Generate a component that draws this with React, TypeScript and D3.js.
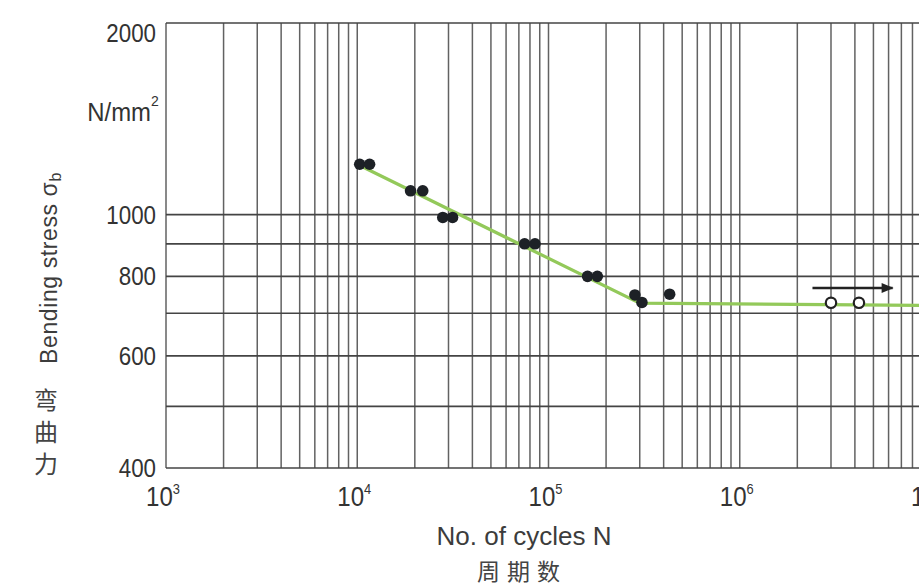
import React from 'react';
import * as d3 from 'd3';

// S-N curve: bending stress vs. number of cycles
const failureN = [1.03e4, 1.16e4, 1.9e4, 2.2e4, 2.8e4, 3.15e4, 7.5e4, 8.5e4, 1.6e5, 1.8e5, 2.83e5, 3.08e5, 4.3e5];
const failureStress = [1200, 1200, 1090, 1090, 990, 990, 900, 900, 800, 800, 748, 728, 750];
const runoutN = [3.0e6, 4.2e6];
const runoutStress = [727, 727];
const curveN = [1e4, 3e5, 1e7];
const curveStress = [1200, 726, 720];
const arrowN = [2.4e6, 6.3e6];
const arrowStress = [767, 767];
const stressGrid = [400, 500, 600, 700, 800, 900, 1000, 2000];
const stressLabels = [400, 600, 800, 1000, 2000];
const cycleLabels = [1e3, 1e4, 1e5, 1e6, 1e7];

const W = 919;
const H = 586;
const FONT = '"Liberation Sans", Arial, sans-serif';
const CJK = '"Noto Sans CJK SC", sans-serif';

export default function App() {
  const x = d3.scaleLog().domain([1e3, 1e7]).range([166, 931]);
  const y = d3.scaleLog().domain([400, 2000]).range([468, 23]);

  const curve = d3.line<number>()
    .x((d, i) => x(curveN[i]))
    .y((d, i) => y(curveStress[i]));

  // log scale ticks give every 1..9 multiple of each decade
  const verticals = x.ticks();

  return (
    <svg width={W} height={H} style={{ position: 'absolute', left: 0, top: 0, background: '#fff' }}>
      <defs>
        <marker id="arr" viewBox="0 0 12 10" refX="11" refY="5" markerWidth="5" markerHeight="4" orient="auto">
          <path d="M0,0 L12,5 L0,10 z" fill="#222" />
        </marker>
      </defs>

      {/* grid */}
      <g>
        {verticals.map((t, i) => (
          <line key={'v' + i} x1={x(t)} x2={x(t)} y1={y(2000)} y2={y(400)} stroke="#626262" strokeWidth={1.5} />
        ))}
        {stressGrid.map((s, i) => (
          <line key={'h' + i} x1={x(1e3)} x2={W} y1={y(s)} y2={y(s)} stroke="#444" strokeWidth={1.7} />
        ))}
      </g>

      {/* fitted curve */}
      <path d={curve(curveN) || ''} fill="none" stroke="#93c95a" strokeWidth={3.2} />

      {/* data */}
      {failureN.map((n, i) => (
        <circle key={'f' + i} cx={x(n)} cy={y(failureStress[i])} r={5.8} fill="#1d2126" />
      ))}
      {runoutN.map((n, i) => (
        <circle key={'r' + i} cx={x(n)} cy={y(runoutStress[i])} r={5.2} fill="#fff" stroke="#222" strokeWidth={2.2} />
      ))}
      <line x1={x(arrowN[0])} x2={x(arrowN[1])} y1={y(arrowStress[0])} y2={y(arrowStress[1])}
        stroke="#222" strokeWidth={2.5} markerEnd="url(#arr)" />

      {/* y tick labels */}
      {stressLabels.map((s) => (
        <text key={'yl' + s} transform={`translate(156,${Math.max(y(s), 33)}) scale(0.86,1)`}
          textAnchor="end" dominantBaseline="central" fontFamily={FONT} fontSize={26} fill="#333">
          {s}
        </text>
      ))}
      <text transform="translate(151,121) scale(0.92,1)" textAnchor="end" fontFamily={FONT} fontSize={26} fill="#333">
        N/mm
      </text>
      <text x={151} y={106} fontFamily={FONT} fontSize={14} fill="#333">2</text>

      {/* x tick labels */}
      {cycleLabels.map((c) => (
        <text key={'xl' + c} transform={`translate(${x(c) - 3},506) scale(0.86,1)`} textAnchor="middle"
          fontFamily={FONT} fontSize={28} fill="#333">
          <tspan>10</tspan>
          <tspan dy={-12} fontSize={15}>{Math.round(Math.log10(c))}</tspan>
        </text>
      ))}

      {/* axis titles */}
      <text transform="translate(57,268) rotate(-90)" textAnchor="middle" fontFamily={FONT} fontSize={23}
        letterSpacing={0.6} fill="#3c3c3c">
        Bending stress σ<tspan fontSize={16} dy={4}>b</tspan>
      </text>
      {'弯曲力'.split('').map((ch, i) => (
        <text key={'yc' + i} x={46} y={398 + i * 32} textAnchor="middle" dominantBaseline="central"
          fontFamily={CJK} fontSize={24} fill="#444">
          {ch}
        </text>
      ))}
      <text x={524} y={545} textAnchor="middle" fontFamily={FONT} fontSize={26} fill="#3c3c3c">
        No. of cycles N
      </text>
      <text x={522} y={580} textAnchor="middle" fontFamily={CJK} fontSize={23} letterSpacing={7} fill="#444">
        周期数
      </text>
    </svg>
  );
}
